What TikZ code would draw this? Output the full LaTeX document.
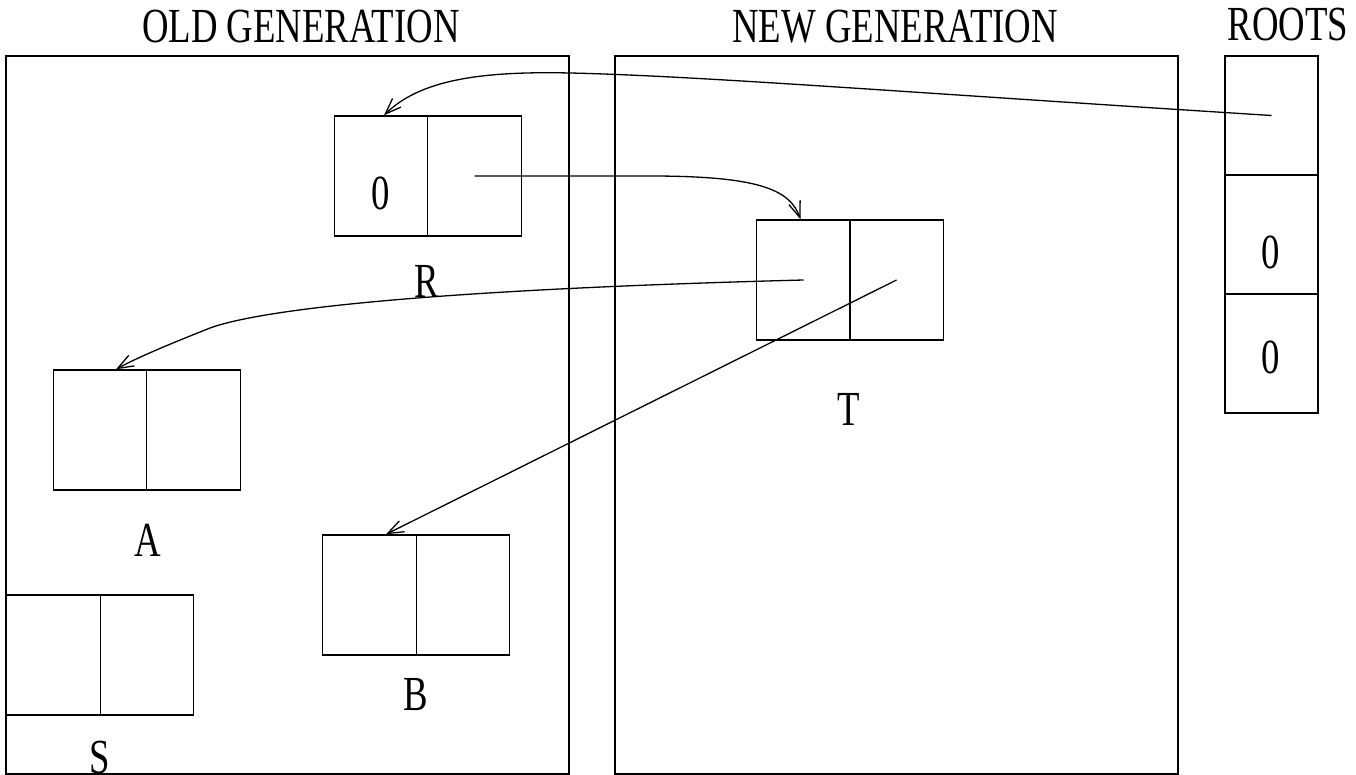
\documentclass[tikz,border=0pt]{standalone}
\usepackage{fontspec}
\usepackage{graphicx}
\setmainfont{Liberation Serif}
\usetikzlibrary{arrows.meta}
\newcommand\sqz[1]{\scalebox{0.75}[1]{#1}}
\begin{document}
\begin{tikzpicture}[x=1pt,y=-1pt,
  gen/.style={draw, line width=1.4pt, inner sep=0pt},
  cell/.style={draw, line width=1.4pt, minimum width=93.5pt, minimum height=120pt, inner sep=0pt},
  rcell/.style={draw, line width=1.4pt, minimum width=93pt, minimum height=119pt, inner sep=0pt},
  lbl/.style={inner sep=0pt, font=\fontsize{49}{52}\selectfont},
  ptr/.style={line width=1.3pt, -{Straight Barb[length=16pt,width=12pt]}}
]
\useasboundingbox (0,0) rectangle (1356,775);
\fill[white] (0,0) rectangle (1356,775);

% generations
\node[gen, minimum width=563pt, minimum height=718pt] (old) at (287.5,415) {};
\node[gen, minimum width=563pt, minimum height=718pt] (new) at (896.5,415) {};

% titles
\node[lbl] (toldgen) at (301,27) {\sqz{OLD GENERATION}};
\node[lbl] (tnewgen) at (895,27) {\sqz{NEW GENERATION}};
\node[lbl] (troots) at (1288,25) {\sqz{ROOTS}};

% roots
\node[rcell] (K1) at (1271.5,115.5) {};
\node[rcell] (K2) at (1271.5,234.5) {};
\node[rcell] (K3) at (1271.5,353.5) {};
\node[lbl] (k2z) at (1271,252) {\sqz{0}};
\node[lbl] (k3z) at (1271,357) {\sqz{0}};

% R
\node[cell] (R1) at (381,176) {};
\node[cell] (R2) at (474.5,176) {};
\node[lbl] (r1z) at (381,193) {\sqz{0}};
\node[lbl] (tR) at (427,281) {\sqz{R}};

% T
\node[cell] (T1) at (803.5,280) {};
\node[cell] (T2) at (896.5,280) {};
\node[lbl] (tT) at (849,409) {\sqz{T}};

% A
\node[cell] (A1) at (100,430) {};
\node[cell] (A2) at (193.5,430) {};
\node[lbl] (tA) at (148,540) {\sqz{A}};

% B
\node[cell] (B1) at (369.5,595) {};
\node[cell] (B2) at (463,595) {};
\node[lbl] (tB) at (416,695) {\sqz{B}};

% S
\node[cell] (S1) at (53.5,655) {};
\node[cell] (S2) at (147,655) {};
\node[lbl] (tS) at (100,758) {\sqz{S}};

% pointers
\draw[ptr] (K1.center) .. controls (900,92) and (700,76) .. (570,73)
  .. controls (480,71) and (420,80) .. ([xshift=3pt]R1.north);
\draw[ptr] (R2.center) -- (650,176) .. controls (760,176) and (790,190) .. ([xshift=-3pt]T1.north);
\draw[ptr] (T1.center) .. controls (420,290) and (260,310) .. (210,328)
  .. controls (180,340) and (140,356) .. ([xshift=16pt]A1.north);
\draw[ptr] (T2.center) -- ([xshift=16.5pt]B1.north);
\end{tikzpicture}
\end{document}
